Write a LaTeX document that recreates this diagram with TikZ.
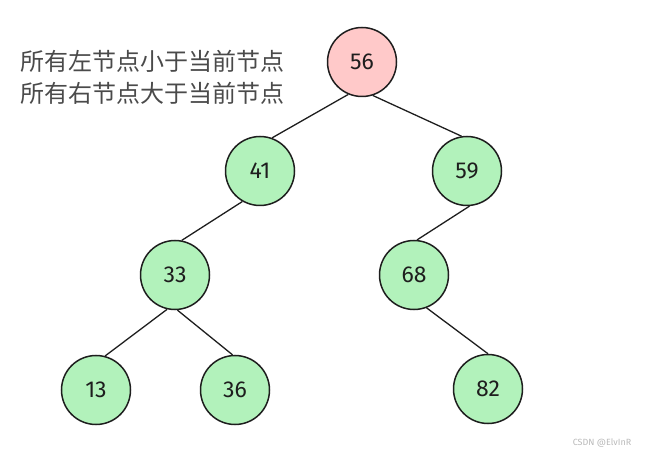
\documentclass[tikz,border=0pt]{standalone}
\usepackage{fontspec}
\setmainfont{Fira Sans}
\newfontfamily\cjk{Noto Sans CJK SC}
\definecolor{ink}{HTML}{1E1E1E}
\definecolor{pinkfill}{HTML}{FFC9C9}
\definecolor{greenfill}{HTML}{B2F2BB}
\definecolor{txtgray}{HTML}{4A4A4A}
\begin{document}
\begin{tikzpicture}[x=1pt,y=-1pt,
  treenode/.style={circle,draw=ink,line width=1.5pt,minimum size=69pt,inner sep=0pt,
    font=\fontsize{23}{23}\selectfont,text=ink},
  rootnode/.style={treenode,fill=pinkfill},
  leafnode/.style={treenode,fill=greenfill},
  edge/.style={draw=ink,line width=1.3pt},
  note/.style={anchor=west,inner sep=0pt,font=\cjk\fontsize{24}{24}\selectfont,text=txtgray}]
\useasboundingbox (0,0) rectangle (645,454);
\node[rootnode] (n56) at (362,62) {56};
\node[leafnode] (n41) at (260,171) {41};
\node[leafnode] (n59) at (467,171) {59};
\node[leafnode] (n33) at (175,275) {33};
\node[leafnode] (n68) at (414,275) {68};
\node[leafnode] (n13) at (96,390) {13};
\node[leafnode] (n36) at (235,390) {36};
\node[leafnode] (n82) at (488,389) {82};
\path[edge] (n56.247) -- (n41.70);
\path[edge] (n56.288) -- (n59.99);
\path[edge] (n41.240) -- (n33.79);
\path[edge] (n59.274) -- (n68.85);
\path[edge] (n33.257) -- (n13.75);
\path[edge] (n33.274) -- (n36.94);
\path[edge] (n68.291) -- (n82.90);
\node[note] (t1) at (20,61) {所有左节点小于当前节点};
\node[note] (t2) at (20,93) {所有右节点大于当前节点};
\node[font=\fontsize{9}{9}\selectfont,text=gray!55] (wm) at (602,443) {CSDN @ElvInR};
\end{tikzpicture}
\end{document}
